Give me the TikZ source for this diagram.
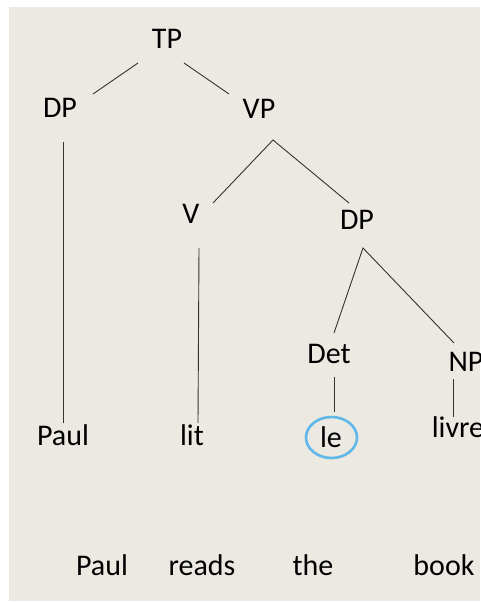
\documentclass[tikz,border=0pt]{standalone}
\usepackage{fontspec}
\setmainfont{Carlito}
\begin{document}
\begin{tikzpicture}[x=1pt,y=-1pt,
  word/.style={anchor=base,inner sep=0pt,font=\fontsize{30}{36}\selectfont},
  branch/.style={draw=black!80,line width=0.9pt},
  ring/.style={draw={rgb,255:red,96;green,184;blue,232},line width=2.6pt}]
  % canvas and panel
  \fill[white] (0,0) rectangle (480,603);
  \fill[fill={rgb,255:red,235;green,233;blue,225}] (9,7) rectangle (480,601);
  \useasboundingbox (0,0) rectangle (480,603);

  % category labels
  \node[word] (tp)  at (167,48)  {TP};
  \node[word] (dpa) at (60,117)  {DP};
  \node[word] (vp)  at (259,118) {VP};
  \node[word] (v)   at (191,223) {V};
  \node[word] (dpb) at (357,229) {DP};
  \node[word] (det) at (329,363) {Det};
  \node[word] (np)  at (466,371) {NP};

  % leaves
  \node[word] (paul) at (63,445)  {Paul};
  \node[word] (lit)  at (192,445) {lit};
  \node[word] (le)   at (331,447) {le};
  \node[word] (livre) at (458,437) {livre};

  % gloss line
  \node[word] (gpaul)  at (102,575) {Paul};
  \node[word] (greads) at (202,575) {reads};
  \node[word] (gthe)   at (313,575) {the};
  \node[word] (gbook)  at (444,575) {book};

  % branch end points
  \coordinate (tp-l)  at (138,63);
  \coordinate (tp-r)  at (184,63);
  \coordinate (dpa-t) at (93,94);
  \coordinate (vp-t)  at (229,94);
  \coordinate (dpa-b) at (63,142);
  \coordinate (vp-b)  at (273,140);
  \coordinate (v-t)   at (213,203);
  \coordinate (dpb-t) at (349,203);
  \coordinate (v-b)   at (199,248);
  \coordinate (dpb-b) at (363,248);
  \coordinate (det-t) at (334,333);
  \coordinate (np-t)  at (454,343);
  \coordinate (det-b) at (334,377);
  \coordinate (np-b)  at (453,379);
  \coordinate (paul-t) at (63,423);
  \coordinate (lit-t)  at (198,423);
  \coordinate (le-t)   at (334,412);
  \coordinate (livre-t) at (453,417);

  % branches
  \draw[branch] (tp-l) -- (dpa-t);
  \draw[branch] (tp-r) -- (vp-t);
  \draw[branch] (dpa-b) -- (paul-t);
  \draw[branch] (v-t) -- (vp-b) -- (dpb-t);
  \draw[branch] (v-b) -- (lit-t);
  \draw[branch] (det-t) -- (dpb-b) -- (np-t);
  \draw[branch] (det-b) -- (le-t);
  \draw[branch] (np-b) -- (livre-t);

  % highlighted determiner
  \draw[ring] (331.5,437.5) ellipse [x radius=25.5,y radius=20.5];
\end{tikzpicture}
\end{document}
